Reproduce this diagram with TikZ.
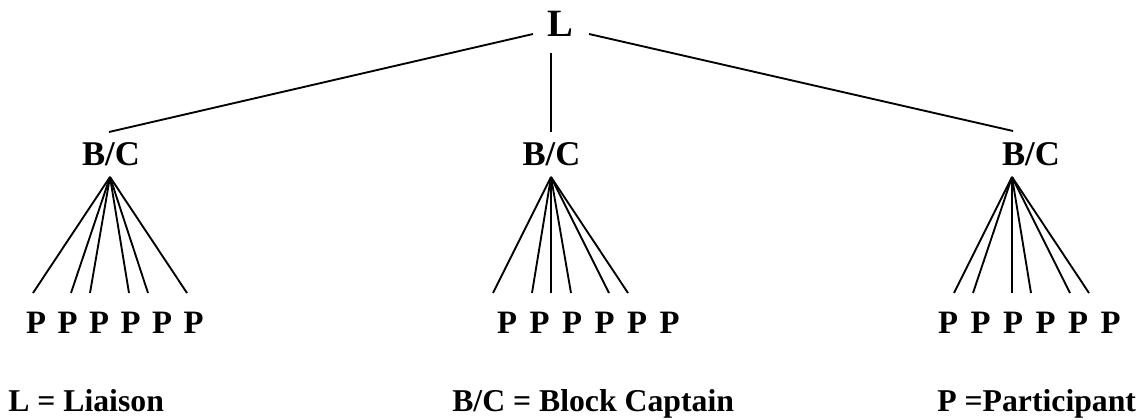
\documentclass[tikz,border=0pt]{standalone}
\usepackage{fontspec}
\setmainfont{Liberation Serif}
\begin{document}
\begin{tikzpicture}[x=0.75pt,y=-0.75pt,
  lbl/.style={inner sep=0pt,anchor=base,font=\bfseries\fontsize{24.5}{28}\selectfont},
  bc/.style={inner sep=0pt,anchor=base,font=\bfseries\fontsize{26}{30}\selectfont},
  top/.style={inner sep=0pt,anchor=base,font=\bfseries\fontsize{29}{34}\selectfont},
  leg/.style={inner sep=0pt,anchor=base west,font=\bfseries\fontsize{23.8}{28}\selectfont},
  edge/.style={line width=1.4pt}]
\useasboundingbox (0,0) rectangle (1142,420);
% top
\node[top] (L) at (560,37) {L};
\node[bc] (B1) at (111,166) {B/C};
\node[bc] (B2) at (551.5,166) {B/C};
\node[bc] (B3) at (1031,166) {B/C};
% connector end points
\coordinate (Lw) at (533,34);
\coordinate (Ls) at (551,53);
\coordinate (Le) at (589,34);
\coordinate (B1t) at (109,132);
\coordinate (B2t) at (551,132);
\coordinate (B3t) at (1013,131);
\draw[edge] (Lw) -- (B1t);
\draw[edge] (Ls) -- (B2t);
\draw[edge] (Le) -- (B3t);
% fan apexes
\coordinate (A1) at (110,177);
\coordinate (A2) at (551,177);
\coordinate (A3) at (1012,177);
\foreach \x [count=\i] in {33,71,90,129,148,187}
  \coordinate (e1\i) at (\x,293);
\foreach \x [count=\i] in {493,532,551,571,609,628}
  \coordinate (e2\i) at (\x,293);
\foreach \x [count=\i] in {954,973,1012,1031,1070,1089}
  \coordinate (e3\i) at (\x,293);
\foreach \g in {1,2,3}
  \foreach \i in {1,...,6}
    \draw[edge] (A\g) -- (e\g\i);
% participants
\foreach \x [count=\i] in {36,67.5,99,130.5,162,193.5}
  \node[lbl] (p1\i) at (\x,333) {P};
\foreach \x [count=\i] in {507,539.5,572,604.5,637,669.5}
  \node[lbl] (p2\i) at (\x,333) {P};
\foreach \x [count=\i] in {948,980.5,1013,1045.5,1078,1110.5}
  \node[lbl] (p3\i) at (\x,333) {P};
% legend
\node[leg] (k1) at (8,411) {L = Liaison};
\node[leg] (k2) at (452,411) {B/C = Block Captain};
\node[leg] (k3) at (937,411) {P =Participant};
\end{tikzpicture}
\end{document}
